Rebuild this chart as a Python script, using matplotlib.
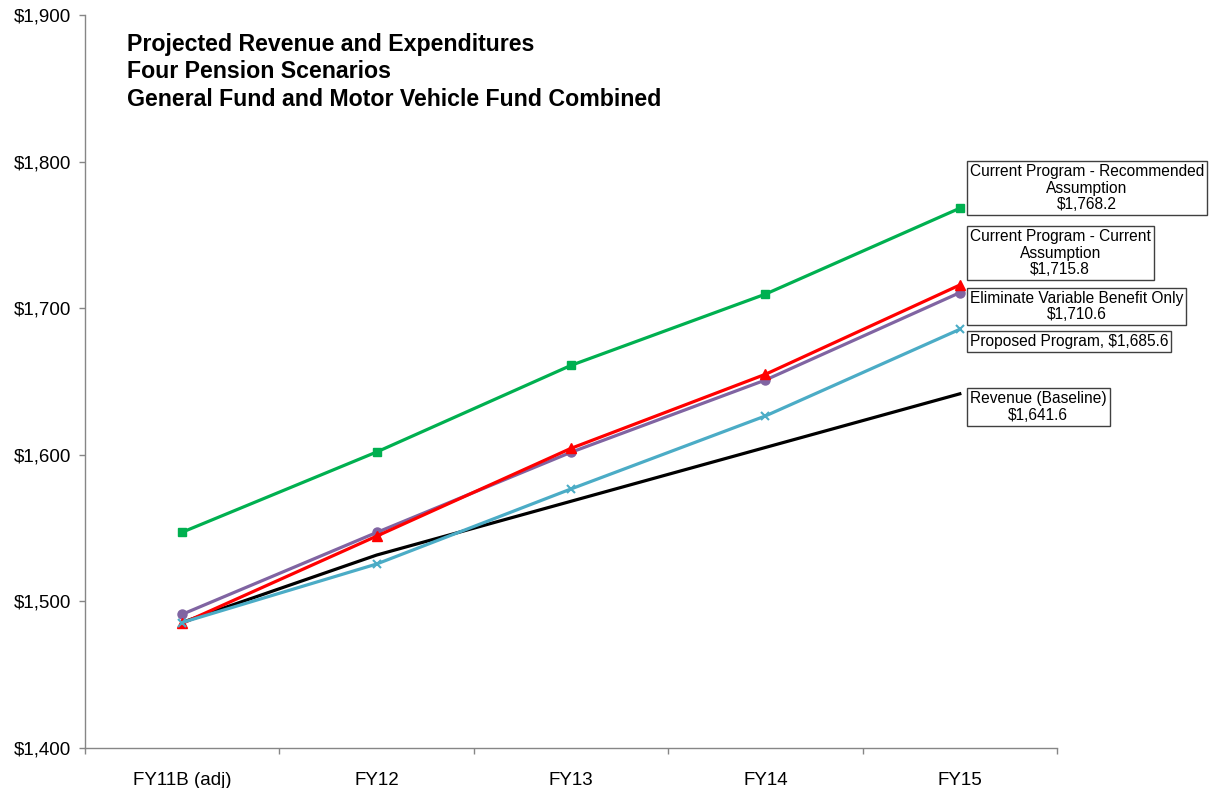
import matplotlib
matplotlib.use("Agg")
import matplotlib.pyplot as plt
from matplotlib.ticker import FixedLocator, FuncFormatter

plt.rcParams['font.family'] = ['Liberation Sans', 'DejaVu Sans']

categories = ["FY11B (adj)", "FY12", "FY13", "FY14", "FY15"]

revenue = [1485.7, 1531.6, 1568.3, 1605.0, 1641.6]
current_recommended = [1547.2, 1601.9, 1661.0, 1709.6, 1768.2]
current_current = [1485.0, 1544.5, 1604.4, 1654.9, 1715.8]
eliminate_variable = [1491.2, 1547.0, 1601.7, 1651.0, 1710.6]
proposed = [1485.6, 1525.5, 1576.7, 1626.5, 1685.6]

series_names = [
    "Revenue (Baseline)",
    "Current Program - Recommended\nAssumption",
    "Current Program - Current\nAssumption",
    "Eliminate Variable Benefit Only",
    "Proposed Program",
]

fig = plt.figure(figsize=(12.1, 7.88), dpi=100)
ax = fig.add_axes([85 / 1210, 1 - 748 / 788, (1057 - 85) / 1210, (748 - 15) / 788])

x = list(range(len(categories)))
lw = 2.3

ax.plot(x, revenue, color="black", lw=lw, zorder=3)
ax.plot(x, current_recommended, color="#00B050", lw=lw, marker="s", ms=6, zorder=3)
ax.plot(x, eliminate_variable, color="#8064A2", lw=lw, marker="o", ms=6.5, zorder=4)
ax.plot(x, current_current, color="#FF0000", lw=lw, marker="^", ms=6.5, zorder=5)
ax.plot(x, proposed, color="#4BACC6", lw=lw, marker="x", ms=5.5, mew=1.5, zorder=6)

ax.set_xlim(-0.5, len(categories) - 0.5)
ax.set_ylim(1400, 1900)
ax.yaxis.set_major_locator(FixedLocator([1400, 1500, 1600, 1700, 1800, 1900]))
ax.yaxis.set_major_formatter(FuncFormatter(lambda v, p: f"${v:,.0f}"))

ax.set_xticks(x)
ax.set_xticklabels(categories)
ax.set_xticks([i - 0.5 for i in range(len(categories) + 1)], minor=True)

axis_grey = "#868686"
for side in ("top", "right"):
    ax.spines[side].set_visible(False)
for side in ("left", "bottom"):
    ax.spines[side].set_color(axis_grey)
    ax.spines[side].set_linewidth(1.0)

ax.tick_params(axis="y", direction="out", length=4.5, width=1, color=axis_grey,
               labelsize=13.5, pad=5.5, labelcolor="black")
ax.tick_params(axis="x", which="major", length=0, labelsize=13.5, pad=17,
               labelcolor="black")
ax.tick_params(axis="x", which="minor", direction="out", length=4, width=1,
               color=axis_grey)

fig.text(127 / 1210, 1 - 33 / 788,
         "Projected Revenue and Expenditures\nFour Pension Scenarios\n"
         "General Fund and Motor Vehicle Fund Combined",
         ha="left", va="top", fontsize=16.7, fontweight="bold", linespacing=1.25)

# value call-outs next to the last point of each series
last = len(categories) - 1
callouts = [
    (current_recommended[last], series_names[1] + f"\n${current_recommended[last]:,.1f}", 20),
    (current_current[last], series_names[2] + f"\n${current_current[last]:,.1f}", 32),
    (eliminate_variable[last], series_names[3] + f"\n${eliminate_variable[last]:,.1f}", -14),
    (proposed[last], series_names[4] + f", ${proposed[last]:,.1f}", -12),
    (revenue[last], series_names[0] + f"\n${revenue[last]:,.1f}", -13),
]
for yv, label, dy in callouts:
    ax.annotate(label, xy=(last, yv), xytext=(7.2, dy * 0.72),
                textcoords="offset points", ha="left", va="center",
                multialignment="center", fontsize=11.2, linespacing=1.12,
                annotation_clip=False, zorder=10,
                bbox=dict(boxstyle="square,pad=0.2", fc="white",
                          ec="#404040", lw=1.0))

fig.savefig("out.png", dpi=100)
